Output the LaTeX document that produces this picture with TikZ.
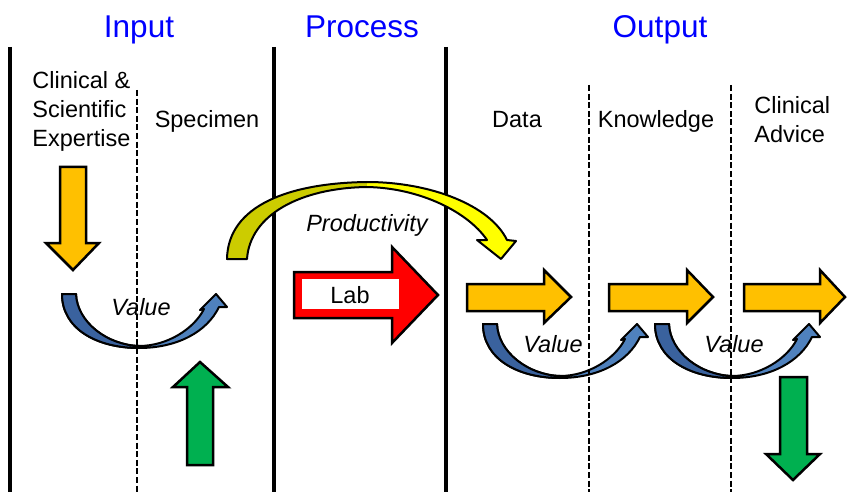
\documentclass[tikz,border=0pt]{standalone}
\usepackage{fontspec}
\setmainfont{Liberation Sans}

\definecolor{headblue}{RGB}{0,0,255}
\definecolor{boxorange}{RGB}{255,192,0}
\definecolor{boxgreen}{RGB}{0,176,80}
\definecolor{arcblue}{RGB}{79,129,189}
\definecolor{arcdark}{RGB}{58,98,158}
\definecolor{arcyellow}{RGB}{255,255,0}
\definecolor{arcolive}{RGB}{204,204,0}

\tikzset{
  head/.style={text=headblue,font=\fontsize{15.75}{18}\selectfont,inner sep=0pt,anchor=base},
  txt/.style={font=\fontsize{11.75}{14.5}\selectfont,inner sep=0pt,anchor=base},
  slanted/.style={font=\fontsize{11.75}{14.5}\selectfont\itshape,inner sep=0pt,anchor=base},
  divider/.style={line width=2pt},
  subdivider/.style={line width=0.75pt,dash pattern=on 3pt off 1.3pt},
  blockarrow/.style={draw=black,line width=1.25pt,line join=miter},
  curvearrow/.style={draw=black,line width=1pt,line join=round},
  valuearc/.pic={
    \path[curvearrow,fill=arcblue]
      (0,0) -- (14,0) .. controls (15,28) and (45,51) .. (77,52)
      .. controls (105,52) and (132,35) .. (142,15) -- (138,16) -- (154,0)
      -- (165,13) -- (157,13) .. controls (145,38) and (115,54) .. (77,54)
      .. controls (35,54) and (0,35) .. (0,0) -- cycle;
    \path[curvearrow,fill=arcdark]
      (0,0) -- (14,0) .. controls (15,28) and (45,51) .. (77,52)
      -- (77,54) .. controls (35,54) and (0,35) .. (0,0) -- cycle;
  }
}

\begin{document}
\begin{tikzpicture}[x=0.5pt,y=-0.5pt]
  \useasboundingbox (0,0) rectangle (852,492);

  % columns
  \draw[divider] (10,47) -- (10,492);
  \draw[divider] (274,47) -- (274,492);
  \draw[divider] (446,47) -- (446,492);

  % headings
  \node[head] (input) at (139,38) {Input};
  \node[head] (process) at (362,38) {Process};
  \node[head] (output) at (660,38) {Output};

  \node[txt,anchor=north west,align=left] (expertise) at (32,71) {Clinical \&\\Scientific\\Expertise};
  \node[txt] (specimen) at (207,128) {Specimen};
  \node[txt] (data) at (517,128) {Data};
  \node[txt] (knowledge) at (656,128) {Knowledge};
  \node[txt,anchor=north west,align=left] (advice) at (754,96) {Clinical\\Advice};

  % productivity
  \fill[arcolive]
    (227,259) -- (247,259) .. controls (250,215) and (300,188) .. (367,187)
    -- (367,182) .. controls (290,183) and (228,205) .. (227,259) -- cycle;
  \fill[arcyellow]
    (367,182) .. controls (430,182) and (490,205) .. (507,240) -- (516,241)
    -- (501,259) -- (477,240) -- (487,240) .. controls (468,212) and (420,188)
    .. (367,187) -- cycle;
  \draw[curvearrow]
    (227,259) -- (247,259) .. controls (250,215) and (300,188) .. (367,187)
    .. controls (420,188) and (468,212) .. (487,240) -- (477,240) -- (501,259)
    -- (516,241) -- (507,240) .. controls (490,205) and (430,182) .. (367,182)
    .. controls (290,183) and (228,205) .. (227,259) -- cycle;
  \node[slanted] (productivity) at (367,232) {Productivity};

  % lab
  \path[blockarrow,fill=red] (294,272) -- (392,272) -- (392,247) -- (438,295)
    -- (392,343) -- (392,318) -- (294,318) -- cycle;
  \fill[white] (302,279) rectangle (399,309);
  \node[txt] (lab) at (350,303) {Lab};

  % input arrows
  \path[blockarrow,fill=boxorange] (60,167) -- (86,167) -- (86,243) -- (99,243)
    -- (73,270) -- (46,243) -- (60,243) -- cycle;
  \path[blockarrow,fill=boxgreen] (187,465) -- (213,465) -- (213,387) -- (228,387)
    -- (200,362) -- (173,387) -- (187,387) -- cycle;

  % output arrows
  \path[blockarrow,fill=boxorange] (467,284) -- (544,284) -- (544,270) -- (571,297)
    -- (544,323) -- (544,311) -- (467,311) -- cycle;
  \path[blockarrow,fill=boxorange] (609,284) -- (687,284) -- (687,270) -- (713,297)
    -- (687,323) -- (687,311) -- (609,311) -- cycle;
  \path[blockarrow,fill=boxorange] (744,284) -- (820,284) -- (820,270) -- (845,297)
    -- (820,323) -- (820,311) -- (744,311) -- cycle;
  \path[blockarrow,fill=boxgreen] (780,377) -- (807,377) -- (807,454) -- (820,454)
    -- (793,480) -- (766,454) -- (780,454) -- cycle;

  % value loops
  \pic at (62,294) {valuearc};
  \pic at (483,324) {valuearc};
  \pic at (655,324) {valuearc};
  \node[slanted] (valueA) at (141,315) {Value};
  \node[slanted] (valueB) at (553,352) {Value};
  \node[slanted] (valueC) at (734,352) {Value};

  \draw[subdivider] (137,90) -- (137,492);
  \draw[subdivider] (589,85) -- (589,492);
  \draw[subdivider] (731,85) -- (731,492);
\end{tikzpicture}
\end{document}
